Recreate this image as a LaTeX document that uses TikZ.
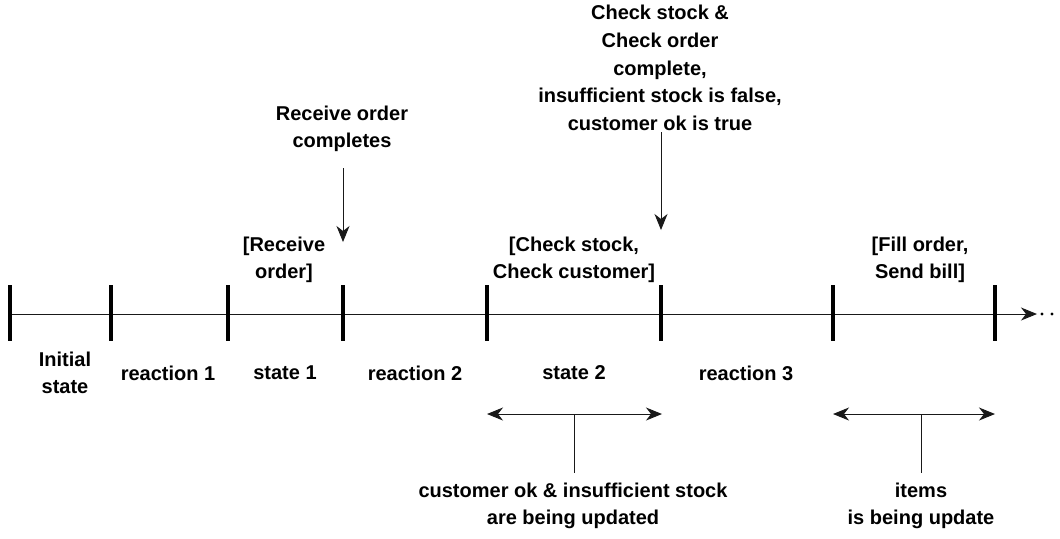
\documentclass[tikz,border=0pt]{standalone}
\usepackage{fontspec}
\setmainfont{Liberation Sans}
\usetikzlibrary{arrows.meta}
\begin{document}
\begin{tikzpicture}[x=0.5pt,y=-0.5pt,
  lbl/.style={font=\bfseries\fontsize{10}{13.8}\selectfont, align=center, inner sep=0pt},
  tl/.style={line width=0.5pt, draw=black!90},
  tickmark/.style={line width=2pt, draw=black},
  tipend/.style={-{Stealth[length=8pt,width=6.5pt,inset=2.5pt]}},
  tipboth/.style={{Stealth[length=8pt,width=6.5pt,inset=2.5pt]}-{Stealth[length=8pt,width=6.5pt,inset=2.5pt]}}
]
\useasboundingbox (0,0) rectangle (1060,538);

% timeline
\coordinate (t0) at (10,314);
\coordinate (tend) at (1037,314);
\draw[tl, tipend] (t0) -- (tend);
\fill (1042,314) circle (0.8pt);
\fill (1052,314) circle (0.8pt);

% ticks
\foreach \i/\x in {1/10,2/111,3/228,4/343,5/487,6/661,7/833,8/995} {
  \coordinate (k\i) at (\x,314);
  \draw[tickmark] (\x,285) -- (\x,341);
}

% labels below timeline
\node[lbl] (l1) at (65,373) {Initial\\state};
\node[lbl] (l2) at (168,373) {reaction 1};
\node[lbl] (l3) at (285,373) {state 1};
\node[lbl] (l4) at (415,373) {reaction 2};
\node[lbl] (l5) at (574,373) {state 2};
\node[lbl] (l6) at (746,373) {reaction 3};

% labels above timeline
\node[lbl] (a1) at (284,260) {[Receive\\order]};
\node[lbl] (a2) at (574,260) {[Check stock,\\Check customer]};
\node[lbl] (a3) at (920,260) {[Fill order,\\Send bill]};

% events
\node[lbl] (e1) at (342,129) {Receive order\\completes};
\coordinate (e1end) at (343,242);
\draw[tl, tipend] (343,168) -- (e1end);

\node[lbl] (e2) at (660,68) {Check stock \&\\Check order\\complete,\\insufficient stock is false,\\customer ok is true};
\coordinate (e2end) at (661,230);
\draw[tl, tipend] (661,132) -- (e2end);

% update ranges
\coordinate (r1a) at (487,414);
\coordinate (r1b) at (662,414);
\coordinate (r1m) at (574,414);
\draw[tl, tipboth] (r1a) -- (r1b);
\node[lbl] (u1) at (573,506) {customer ok \& insufficient stock\\are being updated};
\draw[tl] (r1m) -- (574,473);

\coordinate (r2a) at (833,414);
\coordinate (r2b) at (995,414);
\coordinate (r2m) at (921,414);
\draw[tl, tipboth] (r2a) -- (r2b);
\node[lbl] (u2) at (921,506) {items\\is being update};
\draw[tl] (r2m) -- (921,473);
\end{tikzpicture}
\end{document}
